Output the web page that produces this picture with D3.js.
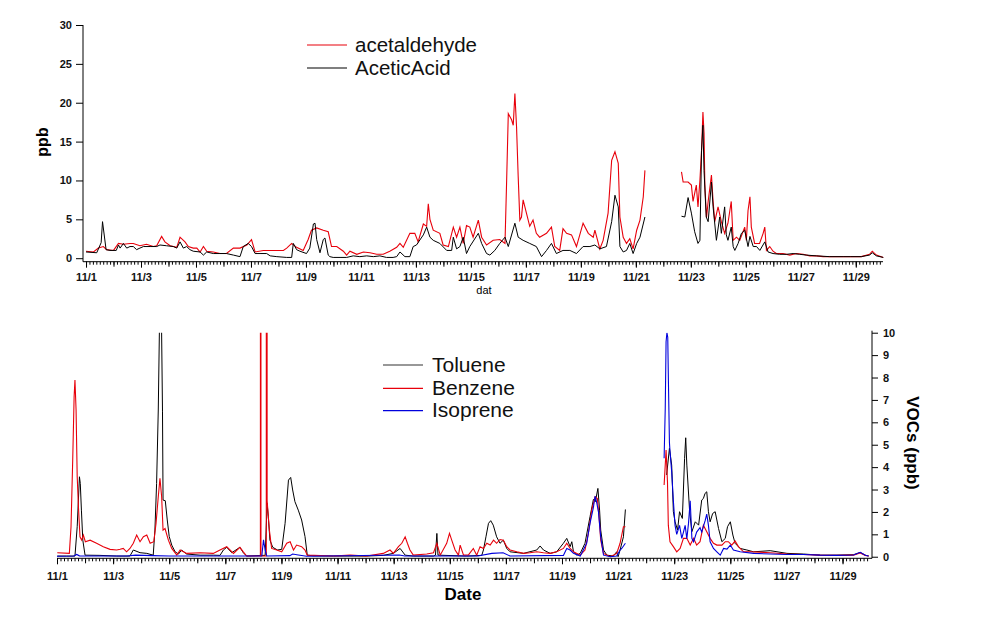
<!DOCTYPE html>
<html><head><meta charset="utf-8">
<script src="https://cdn.jsdelivr.net/npm/d3@7"></script>
<style>
html,body{margin:0;padding:0;background:#fff;}
svg text{font-family:"Liberation Sans",Arial,sans-serif;}
</style></head>
<body><svg id="c" width="982" height="622"></svg>
<script>
// ---- data (time in days since 11/1 00:00) ----
const dateLabels = ["11/1","11/3","11/5","11/7","11/9","11/11","11/13","11/15","11/17","11/19","11/21","11/23","11/25","11/27","11/29"];
const topYTicks = [0,5,10,15,20,25,30];
const botYTicks = [0,1,2,3,4,5,6,7,8,9,10];

const acetaldehydeT = [0,0.27,0.45,0.63,0.75,1.0,1.18,1.36,1.6,1.72,1.96,2.2,2.45,2.57,2.75,2.87,3.06,3.3,3.42,3.6,3.72,3.9,4.03,4.15,4.27,4.39,4.63,4.87,5.11,5.36,5.6,5.85,6.02,6.15,6.45,6.7,6.94,7.18,7.3,7.48,7.66,7.9,8.08,8.2,8.39,8.63,8.81,8.93,9.12,9.36,9.48,9.6,9.85,10.09,10.33,10.57,10.81,11.05,11.3,11.42,11.54,11.78,11.96,12.08,12.27,12.39,12.45,12.51,12.63,12.87,12.99,13.18,13.36,13.48,13.6,13.72,13.84,13.96,14.08,14.27,14.39,14.57,14.81,15.05,15.24,15.30,15.36,15.48,15.54,15.6,15.66,15.72,15.78,15.84,15.9,16.02,16.14,16.26,16.38,16.5,16.75,16.93,17.05,17.23,17.35,17.48,17.66,17.84,18.08,18.27,18.45,18.51,18.69,18.81,18.99,19.12,19.24,19.36,19.42,19.54,19.66,19.78,19.9,20.03,20.15,20.27,20.33,21.0,21.66,21.72,21.9,22.02,22.08,22.2,22.26,22.33,22.39,22.44,22.48,22.51,22.57,22.63,22.75,22.81,22.87,22.99,23.11,23.23,23.35,23.47,23.54,23.66,23.78,23.96,24.02,24.08,24.15,24.2,24.32,24.5,24.63,24.69,24.75,24.87,24.99,25.11,25.35,25.6,25.84,26.08,26.33,26.57,26.81,27.05,27.29,27.54,27.8,28.2,28.5,28.6,28.75,29.0];
const acetaldehydeV = [0.9,0.8,1.3,1.5,1.1,1.0,1.9,1.8,1.9,1.9,1.6,1.8,1.5,1.6,2.8,2.1,1.6,1.4,2.7,2.1,1.5,1.3,1.3,0.8,1.5,0.9,0.8,0.6,0.6,1.3,1.3,1.7,2.4,0.8,1.0,1.0,1.0,1.0,1.3,1.9,1.4,1.0,2.4,3.6,3.9,3.6,3.4,1.5,1.5,0.9,0.4,0.9,0.5,0.8,0.7,0.5,0.5,0.9,1.4,1.9,1.4,3.2,3.2,2.1,4.4,4.1,7.0,5.0,3.6,3.2,1.7,1.5,4.0,2.7,4.0,1.9,4.2,4.0,2.7,4.9,2.7,1.7,2.3,2.4,1.9,10.0,18.6,17.8,17.1,21.2,16.9,10.5,4.9,5.3,7.5,5.8,4.1,4.9,3.2,2.7,3.2,4.0,1.5,1.0,3.8,3.2,3.0,1.5,4.5,3.2,2.7,3.6,1.2,2.3,5.8,12.6,13.7,12.2,5.3,2.7,1.9,2.5,1.2,3.6,4.9,7.9,11.3,null,11.1,9.8,9.8,9.4,7.3,9.4,6.6,10.0,13.9,18.8,16.1,9.4,5.2,7.3,10.7,7.3,4.7,6.6,4.7,3.2,4.5,7.3,2.3,2.7,2.3,4.0,2.3,6.1,7.9,4.0,1.9,1.9,3.2,4.0,1.0,1.5,0.9,0.6,0.6,0.4,0.6,0.5,0.3,0.3,0.2,0.2,0.2,0.2,0.2,0.2,0.5,0.9,0.4,0.1];

const aceticAcidT = [0,0.39,0.55,0.6,0.73,0.87,1.1,1.18,1.24,1.36,1.48,1.6,1.72,1.84,1.96,2.09,2.33,2.57,2.69,2.93,3.18,3.3,3.42,3.54,3.66,3.78,3.9,4.15,4.27,4.39,4.63,4.87,5.11,5.36,5.6,5.72,5.9,6.02,6.15,6.33,6.57,6.7,6.94,7.3,7.48,7.54,7.66,7.78,8.02,8.14,8.27,8.33,8.39,8.51,8.63,8.69,8.81,8.87,8.99,9.24,9.48,9.72,9.96,10.21,10.45,10.69,10.93,11.17,11.3,11.42,11.6,11.78,11.9,12.02,12.27,12.39,12.51,12.63,12.87,13.12,13.3,13.36,13.48,13.6,13.72,13.84,13.96,14.27,14.39,14.57,14.69,14.87,15.05,15.24,15.36,15.6,15.72,15.9,16.14,16.38,16.57,16.75,16.93,17.11,17.35,17.6,17.84,18.08,18.33,18.51,18.69,18.93,19.12,19.24,19.36,19.42,19.54,19.66,19.78,19.9,20.03,20.15,20.33,21.0,21.66,21.78,21.9,22.02,22.14,22.26,22.33,22.39,22.44,22.48,22.56,22.63,22.75,22.81,22.93,23.05,23.11,23.23,23.29,23.35,23.47,23.54,23.6,23.72,23.84,23.96,24.08,24.15,24.27,24.39,24.51,24.69,24.81,24.99,25.23,25.48,25.72,25.96,26.2,26.57,27.05,27.54,27.8,28.2,28.5,28.6,28.75,29.0];
const aceticAcidV = [0.8,0.7,2.0,4.7,1.1,1.0,1.0,1.7,1.3,1.9,1.3,1.5,1.5,1.1,1.3,1.5,1.5,1.5,1.7,1.6,1.5,1.3,2.1,1.3,1.5,1.1,0.9,0.8,0.4,0.8,0.6,0.6,0.6,0.4,0.2,1.5,1.9,1.5,0.6,0.6,0.6,0.3,0.2,0.1,0.1,1.9,1.1,0.9,0.6,1.3,4.4,4.5,2.4,0.7,2.4,2.6,0.4,0.2,0.1,0.1,0.1,0.3,0.2,0.3,0.2,0.3,0.1,0.1,0.2,0.8,0.2,0.2,1.5,1.7,3.0,4.0,2.7,2.3,1.9,1.0,1.0,2.7,1.2,1.5,2.7,0.6,1.5,3.2,1.9,0.6,0.4,1.0,1.9,2.7,1.5,4.5,2.7,2.3,1.9,1.5,0.2,1.0,1.9,0.6,1.0,1.0,0.6,1.5,1.5,1.7,1.2,1.5,4.7,8.1,6.6,1.5,0.8,1.0,1.9,0.6,1.9,2.7,5.3,null,5.4,5.3,7.8,5.8,3.4,1.9,2.3,13.9,17.1,11.3,5.3,4.7,9.8,6.6,2.3,5.3,3.2,6.6,3.0,2.3,4.0,1.5,1.0,1.9,3.2,3.6,1.5,2.8,1.5,1.5,1.0,2.1,0.8,0.6,0.5,0.5,0.6,0.5,0.4,0.3,0.2,0.2,0.2,0.2,0.4,0.7,0.3,0.1];

const tolueneT = [0.01,0.34,0.64,0.72,0.8,0.83,0.87,0.92,1.0,1.53,2.13,2.6,2.72,2.96,3.2,3.43,3.49,3.55,3.61,3.66,3.72,3.76,3.78,3.86,3.93,4.0,4.09,4.21,4.33,4.44,4.62,5.1,5.57,5.81,5.93,6.05,6.23,6.52,6.64,6.76,7.3,7.42,7.49,7.53,7.59,7.69,7.86,8.01,8.13,8.25,8.33,8.4,8.48,8.6,8.72,8.84,8.92,9.14,9.85,11.04,11.63,11.99,12.23,12.41,12.7,13.42,13.49,13.54,13.58,14.6,15.14,15.2,15.29,15.38,15.46,15.55,15.67,15.79,15.91,16.03,16.15,16.63,17.1,17.22,17.34,17.58,17.81,18.05,18.17,18.29,18.35,18.41,18.53,18.65,18.82,19.0,19.12,19.19,19.28,19.34,19.38,19.48,19.6,19.83,19.95,20.0,20.07,20.19,20.26,21.0,21.73,21.83,21.91,21.97,22.03,22.12,22.19,22.29,22.37,22.41,22.45,22.55,22.63,22.75,22.87,22.98,23.04,23.1,23.16,23.22,23.28,23.37,23.46,23.58,23.7,23.82,23.9,24.0,24.09,24.17,24.35,24.59,24.83,25.42,26.02,26.61,27.2,27.8,28.39,28.63,28.81,28.93];
const tolueneV = [0.03,0.03,0.03,1.34,3.57,3.27,2.08,0.74,0.07,0.06,0.03,0.03,0.3,0.18,0.15,0.07,1.19,3.27,6.55,11,11,6.5,2.53,2.5,1.64,0.9,0.52,0.22,0.12,0.3,0.12,0.07,0.07,0.06,0.3,0.42,0.18,0.42,0.18,0.03,0.06,0.06,2.38,1.8,0.74,0.42,0.3,0.33,1.49,3.42,3.54,2.98,2.46,2.08,1.64,0.9,0.07,0.04,0.03,0.03,0.06,0.15,0.37,0.07,0.03,0.03,0.07,1.04,0.07,0.03,0.06,0.3,0.89,1.49,1.61,1.41,0.89,0.6,0.74,0.37,0.22,0.15,0.3,0.48,0.3,0.15,0.22,0.6,0.82,0.45,0.67,0.22,0.07,0.15,0.6,1.79,2.56,2.46,3.05,2.08,1.19,0.3,0.07,0.03,0.22,0.0,0.3,0.89,2.11,null,3.65,4.84,4.09,2.01,1.56,1.19,2.01,1.71,4.39,5.31,4.09,2.01,1.12,1.56,1.41,2.53,2.6,2.83,2.9,2.01,1.56,1.93,2.01,1.26,0.67,0.82,1.34,1.56,0.97,0.6,0.37,0.3,0.22,0.27,0.15,0.12,0.07,0.07,0.09,0.19,0.07,0.03];

const benzeneT = [0.01,0.44,0.5,0.56,0.61,0.64,0.68,0.72,0.77,0.82,0.88,0.94,1.01,1.18,1.41,1.65,1.89,2.13,2.25,2.36,2.48,2.6,2.72,2.84,2.96,3.08,3.2,3.32,3.45,3.53,3.61,3.67,3.73,3.78,3.85,3.97,4.09,4.27,4.39,4.62,5.1,5.57,5.81,6.05,6.29,6.52,6.64,6.76,7.25,7.26,7.27,7.46,7.47,7.49,7.57,7.65,7.83,8.01,8.19,8.31,8.43,8.54,8.72,8.84,8.92,9.85,10.45,11.04,11.63,11.87,11.99,12.17,12.29,12.41,12.49,12.58,12.7,13.18,13.42,13.54,13.66,13.89,13.99,14.07,14.19,14.31,14.37,14.49,14.66,14.84,14.96,15.08,15.2,15.32,15.44,15.56,15.67,15.79,15.91,16.03,16.15,16.39,16.63,16.86,17.1,17.34,17.58,17.81,18.05,18.17,18.29,18.41,18.65,18.82,18.94,19.06,19.18,19.26,19.32,19.38,19.48,19.72,19.95,20.07,20.19,20.26,21.0,21.64,21.68,21.71,21.76,21.79,21.85,21.97,22.09,22.21,22.33,22.45,22.57,22.69,22.8,22.92,23.04,23.16,23.28,23.4,23.52,23.7,23.82,23.93,24.05,24.17,24.29,24.47,24.71,25.42,26.02,26.61,27.2,27.8,28.39,28.63,28.81,28.93];
const benzeneV = [0.18,0.15,1.34,4.32,7.14,7.89,6.55,3.57,2.08,0.89,0.74,0.97,0.67,0.74,0.6,0.45,0.33,0.3,0.33,0.37,0.22,0.37,0.6,0.97,0.67,0.89,0.97,0.6,0.67,1.49,2.68,3.5,2.68,1.19,1.26,0.74,0.37,0.07,0.3,0.15,0.18,0.15,0.3,0.45,0.15,0.42,0.22,0.03,0.03,200,0.03,0.03,200,2.5,1.19,0.37,0.3,0.22,0.6,0.67,0.3,0.52,0.45,0.3,0.07,0.03,0.07,0.03,0.15,0.3,0.15,0.45,0.6,0.89,0.6,0.3,0.07,0.12,0.18,0.6,0.07,0.6,1.04,0.74,0.3,0.07,0.52,0.07,0.07,0.37,0.07,0.45,0.37,0.6,0.52,0.74,0.6,0.77,0.74,0.45,0.3,0.22,0.15,0.18,0.22,0.18,0.15,0.22,0.37,0.6,0.37,0.22,0.07,0.3,1.04,2.08,2.68,2.6,1.79,0.74,0.15,0.0,0.15,0.6,1.34,1.34,null,3.2,4.09,4.76,3.35,1.41,0.67,0.45,0.22,0.37,0.82,0.82,0.52,0.82,0.52,0.67,1.41,1.12,0.82,0.6,0.52,0.52,0.67,0.67,0.52,0.7,0.45,0.22,0.22,0.18,0.12,0.1,0.07,0.06,0.07,0.17,0.06,0.03];

const isopreneT = [0.0,0.6,0.7,0.8,2.5,2.8,3.4,4.0,7.3,7.36,7.42,7.48,8.3,8.4,8.6,8.9,12.2,12.4,15.0,15.5,15.9,16.15,18.05,18.17,18.29,18.41,18.65,18.88,19.0,19.12,19.18,19.24,19.3,19.38,19.48,19.72,19.95,20.07,20.13,20.26,21.0,21.64,21.68,21.71,21.74,21.77,21.79,21.83,21.85,21.91,21.97,22.03,22.09,22.19,22.27,22.33,22.39,22.45,22.51,22.57,22.63,22.69,22.8,22.92,22.98,23.1,23.16,23.22,23.28,23.4,23.52,23.64,23.76,23.88,24.0,24.11,24.35,24.83,25.42,26.02,26.61,27.2,27.8,28.39,28.63,28.81,28.93];
const isopreneV = [0.02,0.03,0.1,0.04,0.03,0.07,0.05,0.03,0.03,0.75,0.3,0.03,0.05,0.12,0.08,0.02,0.08,0.03,0.03,0.15,0.18,0.03,0.06,0.37,0.3,0.15,0.03,0.6,1.5,2.2,2.7,2.4,2.0,0.9,0.07,0.0,0.03,0.3,0.37,0.6,null,4.4,6.6,9.6,10.0,9.8,8.1,5.1,4.7,3.8,2.5,1.4,1.0,1.4,0.82,1.1,1.4,0.8,1.5,2.5,0.82,0.67,1.1,1.3,1.1,1.6,1.9,1.4,0.67,0.37,0.22,0.07,0.37,0.34,0.52,0.3,0.22,0.15,0.12,0.1,0.1,0.07,0.06,0.08,0.2,0.07,0.03];

// ---- drawing ----
const svg = d3.select("#c");
const zip = (T,V) => T.map((t,i)=>({t:t, v:V[i]}));
const FONT = '"Liberation Sans",Arial,sans-serif';

function minorTicks(step, end){ const a=[]; for(let i=0;i<=Math.round(end/step);i++){a.push(+(i*step).toFixed(4));} return a; }

// ===== TOP CHART =====
const xT = d3.scaleLinear().domain([-0.11, 28.99]).range([83, 883]);
const yT = d3.scaleLinear().domain([-0.45, 30]).range([261.7, 25]);
const gT = svg.append("g");

const lineT = d3.line().defined(d=>d.v!=null).x(d=>xT(d.t)).y(d=>yT(d.v));
gT.append("path").datum(zip(acetaldehydeT, acetaldehydeV)).attr("d", lineT)
  .attr("fill","none").attr("stroke","#e8000b").attr("stroke-width",1.1);
gT.append("path").datum(zip(aceticAcidT, aceticAcidV)).attr("d", lineT)
  .attr("fill","none").attr("stroke","#000").attr("stroke-width",1);

const evenDays = dateLabels.map((_,i)=>2*i);
const allDays = d3.range(0,29);
function drawX(g, x, yPos, pad){
  g.append("g").attr("transform",`translate(0,${yPos})`)
   .call(d3.axisBottom(x).tickValues(minorTicks(0.125,28.875)).tickSize(3).tickFormat("").tickSizeOuter(0))
   .call(s=>s.select(".domain").remove());
  g.append("g").attr("transform",`translate(0,${yPos})`)
   .call(d3.axisBottom(x).tickValues(allDays).tickSize(5).tickFormat("").tickSizeOuter(0))
   .call(s=>s.select(".domain").remove());
  const ax = g.append("g").attr("transform",`translate(0,${yPos})`)
   .call(d3.axisBottom(x).tickValues(evenDays).tickSize(6).tickPadding(pad)
         .tickFormat((d,i)=>dateLabels[i]).tickSizeOuter(0));
  ax.select(".domain").attr("d", `M${x.range()[0]},0H${x.range()[1]}`);
  ax.selectAll("text").attr("font-family",FONT).attr("font-size",11).attr("font-weight","bold").attr("fill","#111");
  g.selectAll(".tick line").attr("stroke","#000");
}
drawX(gT, xT, 261.7, 5.2);

const axL = gT.append("g").attr("transform","translate(83,0)")
  .call(d3.axisLeft(yT).tickValues(topYTicks).tickSize(7).tickPadding(4).tickSizeOuter(0));
axL.select(".domain").attr("d","M0,25V261.7");
axL.selectAll("text").attr("font-family",FONT).attr("font-size",11).attr("font-weight","bold").attr("fill","#111");

gT.append("text").attr("transform","translate(48,142) rotate(-90)").attr("text-anchor","middle")
  .attr("font-size",16).attr("font-weight","bold").text("ppb");
gT.append("text").attr("x",484).attr("y",294).attr("text-anchor","middle")
  .attr("font-size",11).text("dat");

const legTop = [{name:"acetaldehyde",c:"#e8000b",y:45},{name:"AceticAcid",c:"#000",y:68}];
legTop.forEach(d=>{
  gT.append("line").attr("x1",307).attr("x2",347).attr("y1",d.y).attr("y2",d.y).attr("stroke",d.c).attr("stroke-width",1.2);
  gT.append("text").attr("x",355).attr("y",d.y+7).attr("font-size",20.5).attr("fill","#111").text(d.name);
});

// ===== BOTTOM CHART =====
const xB = d3.scaleLinear().domain([0, 29.05]).range([57, 872]);
const yB = d3.scaleLinear().domain([-0.07, 10.09]).range([558.3, 330.7]);
const gB = svg.append("g");
svg.append("defs").append("clipPath").attr("id","clipB").append("rect")
  .attr("x",57).attr("y",yB(10)).attr("width",815).attr("height",558.3-yB(10));

const lineB = d3.line().defined(d=>d.v!=null).x(d=>xB(d.t)).y(d=>yB(d.v));
const gLines = gB.append("g").attr("clip-path","url(#clipB)");
gLines.append("path").datum(zip(tolueneT, tolueneV)).attr("d", lineB)
  .attr("fill","none").attr("stroke","#000").attr("stroke-width",1);
gLines.append("path").datum(zip(benzeneT, benzeneV)).attr("d", lineB)
  .attr("fill","none").attr("stroke","#e8000b").attr("stroke-width",1.1);
gLines.append("path").datum(zip(isopreneT, isopreneV)).attr("d", lineB)
  .attr("fill","none").attr("stroke","#0000dd").attr("stroke-width",1.1);

drawX(gB, xB, 558.3, 8);

const axR = gB.append("g").attr("transform","translate(872,0)")
  .call(d3.axisRight(yB).tickValues(botYTicks).tickSize(6).tickPadding(5).tickSizeOuter(0));
axR.select(".domain").attr("d","M0,330.7V558.3");
axR.selectAll("text").attr("font-family",FONT).attr("font-size",11).attr("font-weight","bold").attr("fill","#111");

gB.append("text").attr("x",463).attr("y",600).attr("text-anchor","middle")
  .attr("font-size",17).attr("font-weight","bold").text("Date");
gB.append("text").attr("transform","translate(907,443) rotate(90)").attr("text-anchor","middle")
  .attr("font-size",17).attr("font-weight","bold").text("VOCs (ppb)");

const legBot = [{name:"Toluene",c:"#333",y:365},{name:"Benzene",c:"#e8000b",y:388.3},{name:"Isoprene",c:"#0000dd",y:410.7}];
legBot.forEach(d=>{
  gB.append("line").attr("x1",383).attr("x2",423).attr("y1",d.y).attr("y2",d.y).attr("stroke",d.c).attr("stroke-width",1.2);
  gB.append("text").attr("x",432).attr("y",d.y+6.5).attr("font-size",21).attr("fill","#111").text(d.name);
});
svg.selectAll("text").attr("font-family",FONT);
</script></body></html>
